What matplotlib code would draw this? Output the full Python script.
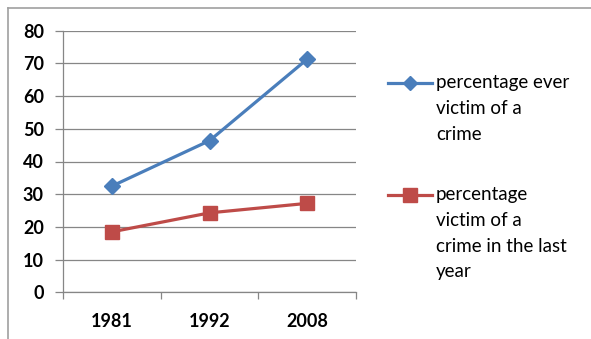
import matplotlib.pyplot as plt
from matplotlib.lines import Line2D
import numpy as np

years = ['1981', '1992', '2008']
ever_victim = [32.5, 46.4, 71.3]
last_year_victim = [18.5, 24.3, 27.2]

label_ever = 'percentage ever\nvictim of a\ncrime'
label_last = 'percentage\nvictim of a\ncrime in the last\nyear'

blue = '#4A7EBB'
red = '#BE4B48'
grey = '#868686'

plt.rcParams['font.family'] = ['Lato', 'DejaVu Sans']

W, H = 591, 339
fig = plt.figure(figsize=(W / 100, H / 100), dpi=100)

# outer chart border (only top and left visible in the crop)
fig.add_artist(Line2D([8 / W, 1], [1 - 8 / H, 1 - 8 / H], color='#A0A0A0', lw=1.2))
fig.add_artist(Line2D([8 / W, 8 / W], [0, 1 - 8 / H], color='#A0A0A0', lw=1.2))

ax = fig.add_axes([63.3 / W, 46.7 / H, 292.7 / W, 261.6 / H])
x = np.arange(len(years))
ax.plot(x, ever_victim, color=blue, lw=2.3, marker='D', ms=8.5, zorder=3)
ax.plot(x, last_year_victim, color=red, lw=2.3, marker='s', ms=10.5, zorder=3)

ax.set_xlim(-0.5, 2.5)
ax.set_ylim(0, 80)
ax.set_yticks(range(0, 81, 10))
ax.yaxis.grid(True, color=grey, lw=0.9)
ax.set_axisbelow(True)
for side in ['top', 'right']:
    ax.spines[side].set_visible(False)
for side in ['left', 'bottom']:
    ax.spines[side].set_color(grey)
    ax.spines[side].set_linewidth(0.9)

ax.set_xticks(x)
ax.set_xticklabels(years)
ax.set_xticks(np.arange(-0.5, 3, 1), minor=True)
ax.tick_params(axis='x', which='major', length=0, pad=15, labelsize=13)
ax.tick_params(axis='x', which='minor', length=5, color=grey, width=0.9)
ax.tick_params(axis='y', length=6, color=grey, width=0.9, pad=8, labelsize=13)
for lab in ax.get_xticklabels() + ax.get_yticklabels():
    lab.set_fontweight('bold')

# legend drawn manually, marker aligned with the first text line
def legend_entry(y_px, color, marker, ms, text):
    yy = 1 - y_px / H
    fig.add_artist(Line2D([388 / W, 432 / W], [yy, yy], color=color, lw=2.3))
    fig.add_artist(Line2D([410 / W], [yy], color=color, marker=marker, ms=ms, lw=0))
    fig.text(436 / W, 1 - (y_px - 9) / H, text, fontsize=13.5, va='top', ha='left',
             linespacing=1.63, color='black')

legend_entry(83, blue, 'D', 7.5, label_ever)
legend_entry(195, red, 's', 10.5, label_last)

fig.savefig('out.png', dpi=100)
